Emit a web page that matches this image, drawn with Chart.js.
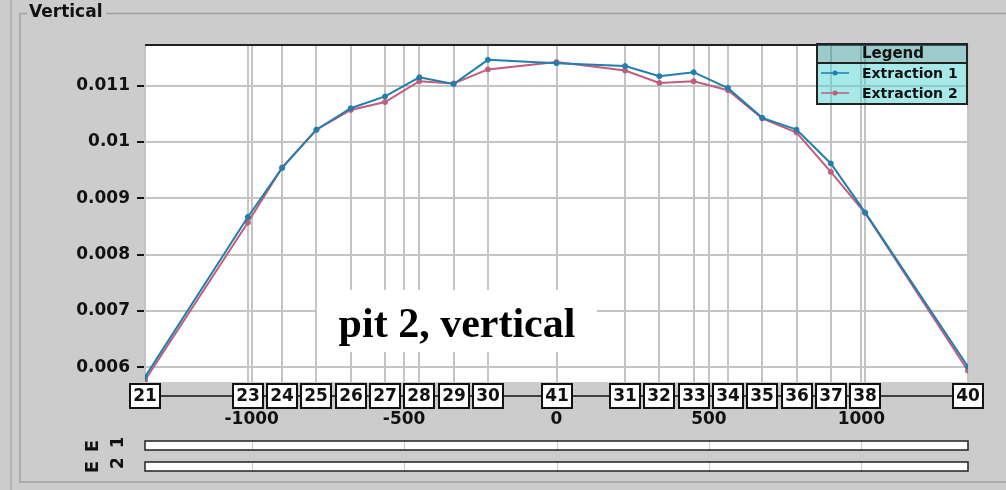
<!DOCTYPE html>
<html>
<head>
<meta charset="utf-8">
<script src="https://cdn.jsdelivr.net/npm/chart.js@4.4.1/dist/chart.umd.min.js"></script>
<style>
  html, body { margin: 0; padding: 0; background: #cccccc; }
  #wrap { width: 1006px; height: 490px; }
</style>
</head>
<body>
<div id="wrap"><canvas id="verticalChart" width="1006" height="490"></canvas></div>
<script>
// probe ids along the section and their horizontal position
const probeIds = ['21', '23', '24', '25', '26', '27', '28', '29', '30', '41',
                  '31', '32', '33', '34', '35', '36', '37', '38', '40'];
const probePos = [-1350, -1012.5, -900, -787.5, -675, -562.5, -450, -337.5, -225, 0,
                  225, 337.5, 450, 562.5, 675, 787.5, 900, 1012.5, 1350];

const extraction1 = [0.00583, 0.00867, 0.00954, 0.01022, 0.01060, 0.01081, 0.01115, 0.01103, 0.01146, 0.01140,
                     0.01135, 0.01117, 0.01124, 0.01096, 0.01043, 0.01022, 0.00962, 0.00875, 0.00601];
const extraction2 = [0.00577, 0.00857, 0.00955, 0.01022, 0.01057, 0.01071, 0.01108, 0.01104, 0.01129, 0.01142,
                     0.01127, 0.01105, 0.01108, 0.01092, 0.01042, 0.01017, 0.00947, 0.00874, 0.00594];

const xTicks = [-1000, -500, 0, 500, 1000];
const yTicks = [0.006, 0.007, 0.008, 0.009, 0.01, 0.011];

const seriesNames = ['Extraction 1', 'Extraction 2'];
const seriesColors = ['#1f7fae', '#c25c7c'];

const FONT = '"DejaVu Sans", sans-serif';
const GRID = '#c4c4c4';

const toPoints = vals => vals.map((v, i) => ({ x: probePos[i], y: v }));

// gray panel, titled border, white plot background
const panelPlugin = {
  id: 'panel',
  beforeDraw(chart) {
    const { ctx, chartArea: a } = chart;
    ctx.save();
    ctx.fillStyle = '#cccccc';
    ctx.fillRect(0, 0, chart.width, chart.height);

    ctx.strokeStyle = '#b4b4b4';
    ctx.lineWidth = 2;
    ctx.beginPath();
    ctx.moveTo(11, 0); ctx.lineTo(11, chart.height);
    ctx.stroke();

    ctx.strokeStyle = '#a0a0a0';
    ctx.lineWidth = 1.5;
    ctx.beginPath();
    ctx.moveTo(27, 13.5); ctx.lineTo(20, 13.5); ctx.lineTo(20, 482); ctx.lineTo(chart.width, 482);
    ctx.moveTo(106, 13.5); ctx.lineTo(chart.width, 13.5);
    ctx.stroke();

    ctx.fillStyle = '#111';
    ctx.font = 'bold 17px ' + FONT;
    ctx.textAlign = 'left';
    ctx.textBaseline = 'middle';
    ctx.fillText('Vertical', 29, 13);

    ctx.fillStyle = '#ffffff';
    ctx.fillRect(a.left, a.top, a.right - a.left, a.bottom - a.top);
    ctx.restore();
  }
};

// extra grid lines at every probe position and the dark top edge
const probeGridPlugin = {
  id: 'probeGrid',
  beforeDatasetsDraw(chart) {
    const { ctx, chartArea: a, scales: { x } } = chart;
    ctx.save();
    ctx.strokeStyle = GRID;
    ctx.lineWidth = 2;
    probePos.forEach(p => {
      const px = Math.round(x.getPixelForValue(p));
      ctx.beginPath();
      ctx.moveTo(px, a.top); ctx.lineTo(px, a.bottom);
      ctx.stroke();
    });
    ctx.strokeStyle = '#222';
    ctx.beginPath();
    ctx.moveTo(a.left, a.top + 1); ctx.lineTo(a.right, a.top + 1);
    ctx.stroke();
    ctx.restore();
  }
};

// boxed probe ids under the plot, the two bands, the note and the legend
const overlayPlugin = {
  id: 'overlay',
  afterDatasetsDraw(chart) {
    const { ctx, chartArea: a, scales: { x } } = chart;
    ctx.save();

    // probe id boxes
    const yMid = 396;
    ctx.strokeStyle = '#111';
    ctx.lineWidth = 1.5;
    ctx.beginPath();
    ctx.moveTo(x.getPixelForValue(probePos[0]), yMid);
    ctx.lineTo(x.getPixelForValue(probePos[probePos.length - 1]), yMid);
    ctx.stroke();
    ctx.font = 'bold 17px ' + FONT;
    ctx.textAlign = 'center';
    ctx.textBaseline = 'middle';
    probePos.forEach((p, i) => {
      const px = Math.round(x.getPixelForValue(p));
      ctx.fillStyle = '#fff';
      ctx.fillRect(px - 15, 384, 30, 24);
      ctx.lineWidth = 2;
      ctx.strokeRect(px - 15, 384, 30, 24);
      ctx.fillStyle = '#111';
      ctx.fillText(probeIds[i], px, 397);
    });

    // two bands below the axis, each with a small rotated tag
    [441, 462].forEach((top, k) => {
      ctx.fillStyle = '#fff';
      ctx.fillRect(a.left, top, a.right - a.left, 9);
      ctx.strokeStyle = '#c8c8c8';
      ctx.lineWidth = 1;
      xTicks.forEach(t => {
        const px = Math.round(x.getPixelForValue(t)) + 0.5;
        ctx.beginPath(); ctx.moveTo(px, top); ctx.lineTo(px, top + 9); ctx.stroke();
      });
      ctx.strokeStyle = '#222';
      ctx.lineWidth = 1.5;
      ctx.strokeRect(a.left, top, a.right - a.left, 9);

      ctx.fillStyle = '#111';
      ctx.font = 'bold 18px ' + FONT;
      ctx.save();
      ctx.translate(93, top + 5);
      ctx.rotate(-Math.PI / 2);
      ctx.fillText('E', 0, 0);
      ctx.restore();

      ctx.save();
      ctx.beginPath();
      ctx.rect(105, top - 3, 25, 9);
      ctx.clip();
      ctx.translate(118, top + 1);
      ctx.rotate(-Math.PI / 2);
      ctx.fillText(String(k + 1), 0, 0);
      ctx.restore();
    });

    // note in the plot
    ctx.fillStyle = '#fff';
    ctx.fillRect(317, 290, 280, 62);
    ctx.fillStyle = '#000';
    ctx.font = 'bold 42px "Liberation Serif", serif';
    ctx.textAlign = 'center';
    ctx.textBaseline = 'alphabetic';
    ctx.fillText('pit 2, vertical', 457, 337);

    // legend
    const lx = 817, lw = 150, ly = 44;
    ctx.fillStyle = 'rgba(60, 150, 150, 0.5)';
    ctx.fillRect(lx, ly, lw, 19);
    ctx.fillStyle = 'rgba(80, 210, 210, 0.5)';
    ctx.fillRect(lx, ly + 19, lw, 41);
    ctx.strokeStyle = '#222';
    ctx.lineWidth = 2;
    ctx.strokeRect(lx, ly, lw, 60);
    ctx.beginPath(); ctx.moveTo(lx, ly + 19); ctx.lineTo(lx + lw, ly + 19); ctx.stroke();
    ctx.fillStyle = '#111';
    ctx.font = 'bold 15px ' + FONT;
    ctx.textAlign = 'center';
    ctx.textBaseline = 'middle';
    ctx.fillText('Legend', 893, ly + 10);
    ctx.font = 'bold 14px ' + FONT;
    ctx.textAlign = 'left';
    seriesNames.forEach((name, i) => {
      const ry = ly + 29 + i * 20;
      ctx.strokeStyle = seriesColors[i];
      ctx.lineWidth = 1.5;
      ctx.beginPath(); ctx.moveTo(821, ry); ctx.lineTo(849, ry); ctx.stroke();
      ctx.fillStyle = seriesColors[i];
      ctx.beginPath(); ctx.arc(835, ry, 2.5, 0, Math.PI * 2); ctx.fill();
      ctx.fillStyle = '#111';
      ctx.fillText(name, 862, ry + 1);
    });

    ctx.restore();
  }
};

const makeSet = (i, vals) => ({
  label: seriesNames[i],
  data: toPoints(vals),
  borderColor: seriesColors[i],
  backgroundColor: seriesColors[i],
  pointBackgroundColor: seriesColors[i],
  pointBorderColor: seriesColors[i],
  borderWidth: 2,
  pointRadius: 2.5,
  pointBorderWidth: 1,
  tension: 0,
  fill: false
});

new Chart(document.getElementById('verticalChart'), {
  type: 'line',
  data: { datasets: [makeSet(0, extraction1), makeSet(1, extraction2)] },
  options: {
    responsive: false,
    animation: false,
    layout: { padding: { top: 44, right: 38, left: 0, bottom: 0 } },
    plugins: { legend: { display: false }, tooltip: { enabled: false } },
    scales: {
      x: {
        type: 'linear',
        min: -1350,
        max: 1350,
        afterBuildTicks: s => { s.ticks = xTicks.map(v => ({ value: v })); },
        afterFit: s => { s.height = 108; },
        border: { display: false },
        grid: { color: GRID, lineWidth: 2, drawTicks: false },
        ticks: {
          autoSkip: false,
          maxRotation: 0,
          padding: 27,
          color: '#111',
          font: { family: FONT, size: 17, weight: 'bold' },
          callback: v => String(v)
        }
      },
      y: {
        min: 0.005739,
        max: 0.011741,
        afterBuildTicks: s => { s.ticks = yTicks.map(v => ({ value: v })); },
        afterFit: s => { s.width = 145; },
        border: { display: false },
        grid: { color: GRID, lineWidth: 2, tickColor: '#111', tickLength: 8, tickWidth: 2 },
        ticks: {
          padding: 7,
          color: '#111',
          font: { family: FONT, size: 17, weight: 'bold' },
          callback: v => String(v)
        }
      }
    }
  },
  plugins: [panelPlugin, probeGridPlugin, overlayPlugin]
});
</script>
</body>
</html>
